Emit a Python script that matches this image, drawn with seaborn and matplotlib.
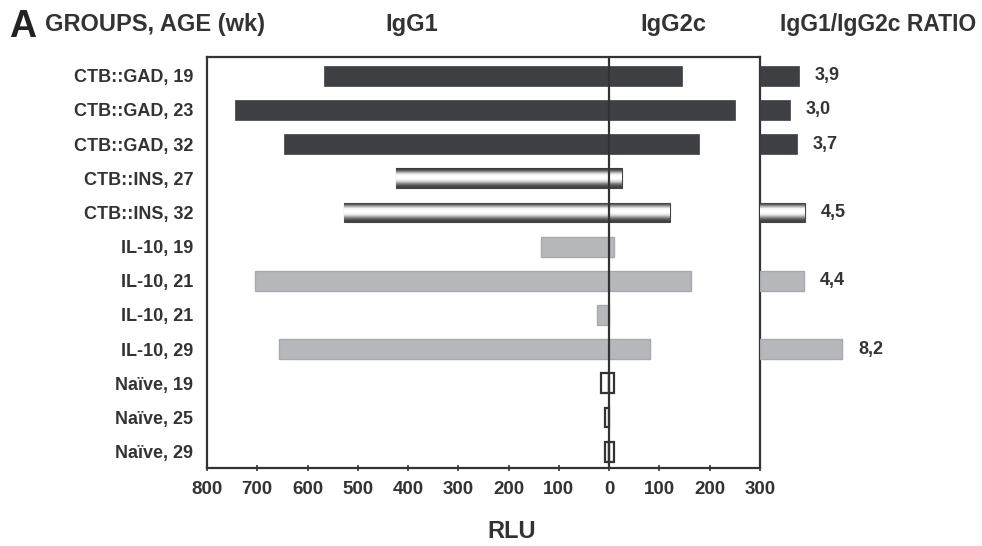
import numpy as np
import pandas as pd
import matplotlib
matplotlib.use("Agg")
import matplotlib.pyplot as plt
import seaborn as sns

# ---- data ----
labels = ["CTB::GAD, 19", "CTB::GAD, 23", "CTB::GAD, 32", "CTB::INS, 27", "CTB::INS, 32",
          "IL-10, 19", "IL-10, 21", "IL-10, 21", "IL-10, 29",
          "Naïve, 19", "Naïve, 25", "Naïve, 29"]
groups = ["GAD", "GAD", "GAD", "INS", "INS", "IL10", "IL10", "IL10", "IL10",
          "NAIVE", "NAIVE", "NAIVE"]
igg1 = [567, 744, 647, 424, 528, 136, 704, 24, 656, 16, 8, 9]
igg2c = [145, 250, 178, 25, 121, 9, 162, 0, 82, 9, 0, 9]
ratio = [3.9, 3.0, 3.7, np.nan, 4.5, np.nan, 4.4, np.nan, 8.2, np.nan, np.nan, np.nan]
ratio_text = ["3,9", "3,0", "3,7", "", "4,5", "", "4,4", "", "8,2", "", "", ""]
xtick_vals = [-800, -700, -600, -500, -400, -300, -200, -100, 0, 100, 200, 300]
xtick_labels = ["800", "700", "600", "500", "400", "300", "200", "100", "0", "100", "200", "300"]

sns.set_theme(style="white")
plt.rcParams["font.family"] = ["Liberation Sans", "DejaVu Sans"]
plt.rcParams["font.weight"] = "bold"

DARK = "#3f4044"
GRAY = "#b6b7bb"
TXT = "#333333"
fill = {"GAD": DARK, "INS": "white", "IL10": GRAY, "NAIVE": "white"}
edge = {"GAD": DARK, "INS": "#444444", "IL10": "#a8a9ad", "NAIVE": "#333333"}

keys = [f"r{i}" for i in range(len(labels))]
df = pd.DataFrame({"key": keys, "group": groups, "neg": [-v for v in igg1],
                   "pos": igg2c, "ratio": ratio})

W, H = 982, 546
fig = plt.figure(figsize=(W / 100, H / 100), dpi=100)
ax_l, ax_r, ax_t, ax_b = 207, 760, 57, 468
ax = fig.add_axes([ax_l / W, 1 - ax_b / H, (ax_r - ax_l) / W, (ax_b - ax_t) / H])
axr = fig.add_axes([ax_r / W, 1 - ax_b / H, (W - ax_r) / W, (ax_b - ax_t) / H])

BW = 0.58
for col in ["neg", "pos"]:
    sns.barplot(data=df, x=col, y="key", hue="group", order=keys, palette=fill,
                dodge=False, width=BW, legend=False, ax=ax, linewidth=1.2, saturation=1)
sns.barplot(data=df, x="ratio", y="key", hue="group", order=keys, palette=fill,
            dodge=False, width=BW, legend=False, ax=axr, linewidth=1.2, saturation=1)

# gradient for striped bars
grad = np.array([0.22, 0.4, 0.7, 0.95, 1.0, 1.0, 0.95, 0.8, 0.55, 0.35, 0.25]).reshape(-1, 1)
def style_patches(a):
    for p in a.patches:
        y = p.get_y() + p.get_height() / 2
        row = int(round(y))
        if row < 0 or row >= len(groups) or p.get_width() == 0 or np.isnan(p.get_width()):
            continue
        g = groups[row]
        p.set_edgecolor(edge[g])
        if g == "GAD":
            p.set_linewidth(0.5)
        elif g == "IL10":
            p.set_linewidth(1.0)
        elif g == "NAIVE":
            p.set_linewidth(1.6)
        elif g == "INS":
            p.set_linewidth(0.8)
            x0, x1 = sorted([p.get_x(), p.get_x() + p.get_width()])
            y0, y1 = p.get_y(), p.get_y() + p.get_height()
            im = a.imshow(grad, cmap="gray", vmin=0, vmax=1, aspect="auto",
                          extent=[x0, x1, y1, y0], interpolation="bilinear", zorder=p.get_zorder())
            im.set_clip_path(p)
style_patches(ax)
style_patches(axr)

ax.set_xlim(-800, 300)
ax.set_ylim(len(labels) - 0.52, -0.55)
axr.set_xlim(0, (W - ax_r) / 10)
axr.set_ylim(len(labels) - 0.52, -0.55)

ax.axvline(0, color="#333333", lw=1.6, zorder=10)

ax.set_xticks(xtick_vals)
ax.set_xticklabels(xtick_labels, fontsize=13.5, fontweight="bold", color=TXT)
ax.set_yticks(range(len(labels)))
ax.set_yticklabels(labels, fontsize=13, fontweight="bold", color=TXT)
ax.tick_params(axis="y", length=0, pad=10)
ax.tick_params(axis="x", direction="inout", length=5, width=1.2, color="#333333", pad=7, bottom=True)
ax.set_xlabel("")
ax.set_ylabel("")
for s in ax.spines.values():
    s.set_color("#333333")
    s.set_linewidth(1.6)

axr.axis("off")
for i, t in enumerate(ratio_text):
    if t:
        axr.text(ratio[i] + 1.6, i, t, va="center", ha="left", fontsize=13,
                 fontweight="bold", color=TXT)

fig.text(512 / W, 1 - 531 / H, "RLU", fontsize=17, fontweight="bold", color=TXT, va="center", ha="center")
fig.text(9 / W, 1 - 27 / H, "A", fontsize=27, fontweight="bold", color="#222222", va="center", ha="left")
fig.text(45 / W, 1 - 25 / H, "GROUPS, AGE (wk)", fontsize=17, fontweight="bold", color=TXT, va="center", ha="left")
fig.text(412 / W, 1 - 25 / H, "IgG1", fontsize=17, fontweight="bold", color=TXT, va="center", ha="center")
fig.text(673 / W, 1 - 25 / H, "IgG2c", fontsize=17, fontweight="bold", color=TXT, va="center", ha="center")
fig.text(976 / W, 1 - 25 / H, "IgG1/IgG2c RATIO", fontsize=16.5, fontweight="bold", color=TXT, va="center", ha="right")

fig.savefig("out.png", dpi=100, facecolor="white")
